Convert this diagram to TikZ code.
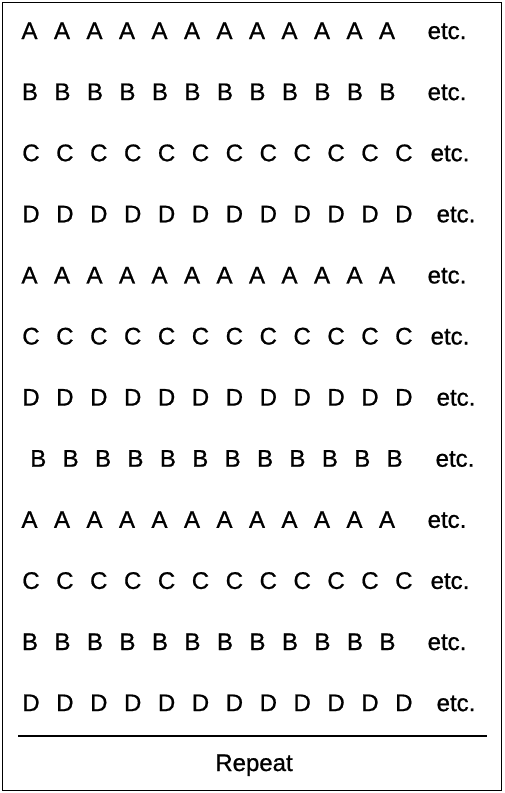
\documentclass[tikz,border=0pt]{standalone}
\usepackage{fontspec}
\setmainfont{Liberation Sans}
\newfontfamily\heavy[FakeBold=0.8]{Liberation Sans}
\begin{document}
\begin{tikzpicture}[x=1pt,y=-1pt,
  lett/.style={anchor=base,inner sep=0pt,font=\heavy\fontsize{24}{28}\selectfont},
  etcs/.style={anchor=base,inner sep=0pt,font=\heavy\fontsize{24}{28}\selectfont},
  frame/.style={draw=black,line width=1.8pt},
  rule/.style={draw=black,line width=2pt}]
\useasboundingbox (0,0) rectangle (504,793);
\draw[frame] (2.5,2.5) rectangle (501.5,790.5);
% rows: letter / first x / step / etc x
\foreach \L/\xo/\dx/\ex [count=\r] in {
  A/29.5/32.5/447, B/30/32.5/447, C/31/33.9/450, D/31/33.9/456,
  A/29.5/32.5/447, C/31/33.9/450, D/31/33.9/456, B/38.3/32.4/455,
  A/29.5/32.5/447, C/31/33.9/450, B/30/32.5/447, D/31/33.9/456}{
  \pgfmathsetmacro{\yb}{39+61.1*(\r-1)}
  \foreach \k in {0,...,11}{
    \node[lett] (l\r-\k) at ({\xo+\k*\dx},\yb) {\L};
  }
  \node[etcs] (etc\r) at (\ex,\yb) {etc.};
}
\coordinate (ruleL) at (18,736);
\coordinate (ruleR) at (487,736);
\draw[rule] (ruleL) -- (ruleR);
\node[etcs] (repeat) at (254,771) {Repeat};
\end{tikzpicture}
\end{document}
